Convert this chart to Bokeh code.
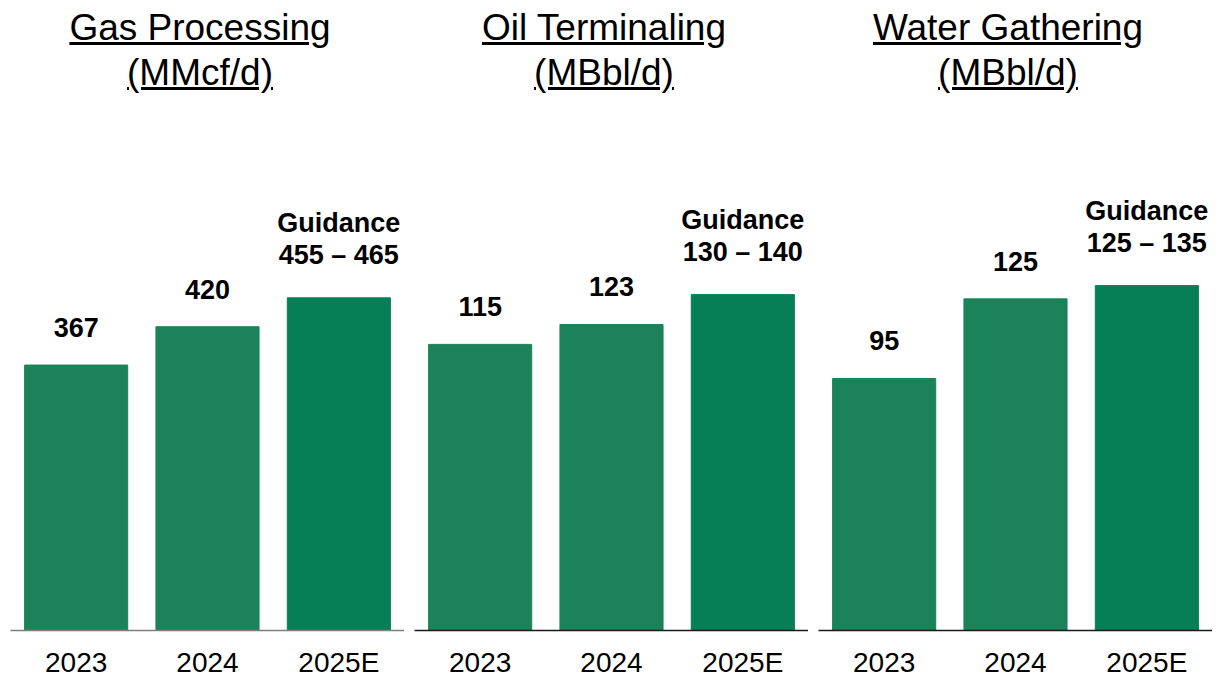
from bokeh.plotting import figure
from bokeh.models import ColumnDataSource, Div, FactorRange, Range1d
from bokeh.layouts import row, column
from bokeh.embed import file_html
from bokeh.resources import INLINE
from bokeh.core.properties import value

years = ["2023", "2024", "2025E"]

titles = ["Gas Processing", "Oil Terminaling", "Water Gathering"]
units = ["(MMcf/d)", "(MBbl/d)", "(MBbl/d)"]

gas_actual = [367, 420]
gas_guidance = [455, 465]
oil_actual = [115, 123]
oil_guidance = [130, 140]
water_actual = [95, 125]
water_guidance = [125, 135]

actuals = [gas_actual, oil_actual, water_actual]
guidances = [gas_guidance, oil_guidance, water_guidance]

# layout / style
y_tops = [719, 209, 196]
axis_colors = ["#7F7F7F", "#1A1A1A", "#1A1A1A"]
bar_colors = ["#1B8259", "#1B8259", "#067F57"]
FONT = "Liberation Sans"

cols = []
for i in range(3):
    lo, hi = guidances[i]
    vals = actuals[i] + [(lo + hi) / 2]
    labels = [str(v) for v in actuals[i]] + [f"Guidance\n{lo} \u2013 {hi}"]
    src = ColumnDataSource(dict(x=years, top=vals, label=labels, color=bar_colors))

    p = figure(x_range=FactorRange(*years, range_padding=0), y_range=Range1d(0, y_tops[i]),
               frame_width=394, frame_height=520, output_backend="svg",
               toolbar_location=None, min_border_left=10,
               min_border_right=0, min_border_top=0, min_border_bottom=0)
    p.vbar(x="x", top="top", width=0.785, color="color", source=src)
    p.text(x="x", y="top", text="label", source=src, text_align="center",
           text_baseline="bottom", y_offset=-28, text_font=value(FONT),
           text_font_size="27px", text_font_style="bold", text_color="black",
           text_line_height=1.05)

    p.yaxis.visible = False
    p.xgrid.visible = False
    p.ygrid.visible = False
    p.outline_line_color = None
    ax = p.xaxis[0]
    ax.axis_line_color = axis_colors[i]
    ax.axis_line_width = 1.5
    ax.major_tick_line_color = None
    ax.minor_tick_line_color = None
    ax.major_label_text_font = FONT
    ax.major_label_text_font_size = "28px"
    ax.major_label_text_color = "black"
    ax.major_label_standoff = 10

    d = Div(text=f"<div style='width:390px;text-align:center;font-family:\"Liberation Sans\",Arial;"
                 f"font-size:37px;line-height:45px;text-decoration:underline;color:black'>"
                 f"{titles[i]}<br>{units[i]}</div>",
            width=390, height=100)
    cols.append(column(d, p, spacing=0))

layout = row(*cols, spacing=0)
open("out.html", "w").write(file_html(layout, INLINE))
